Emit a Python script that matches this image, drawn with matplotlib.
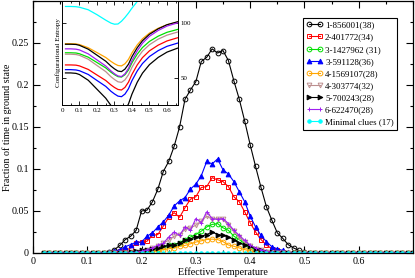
import numpy as np
import matplotlib
matplotlib.use('Agg')
import matplotlib.pyplot as plt
from matplotlib.ticker import MultipleLocator, FuncFormatter

plt.rcParams['font.family'] = ['Liberation Serif', 'DejaVu Serif']

# effective temperature grid of the main plot
temps = np.round(np.arange(0.02, 0.705, 0.01), 2)
# non-zero window: T = 0.13 ... 0.51
win_start = 11

frac_1_856001 = [0, 0.001, 0.004, 0.009, 0.016, 0.020, 0.027, 0.050, 0.051, 0.061,
                 0.076, 0.097, 0.109, 0.127, 0.150, 0.183, 0.194, 0.204, 0.228, 0.233,
                 0.243, 0.238, 0.241, 0.229, 0.205, 0.183, 0.157, 0.129, 0.103, 0.078,
                 0.055, 0.039, 0.024, 0.0175, 0.010, 0.006, 0.003, 0.001, 0]
frac_2_401772 = [0, 0, 0.001, 0.002, 0.003, 0.006, 0.012, 0.013, 0.014, 0.021,
                 0.022, 0.032, 0.0425, 0.048, 0.0425, 0.054, 0.064, 0.067, 0.078, 0.079,
                 0.0897, 0.087, 0.085, 0.079, 0.067, 0.061, 0.049, 0.036, 0.025, 0.016,
                 0.0095, 0.005, 0.003, 0.0015, 0.0005, 0, 0, 0, 0]
frac_3_1427962 = [0, 0, 0, 0, 0, 0.0005, 0.001, 0.001, 0.002, 0.004,
                  0.005, 0.007, 0.009, 0.010, 0.012, 0.016, 0.019, 0.022, 0.026, 0.031,
                  0.034, 0.035, 0.030, 0.027, 0.020, 0.016, 0.011, 0.007, 0.004, 0.002,
                  0.001, 0.0005, 0, 0, 0, 0, 0, 0, 0]
frac_3_591128 = [0, 0.001, 0.002, 0.004, 0.0075, 0.010, 0.013, 0.013, 0.020, 0.024,
                 0.031, 0.037, 0.045, 0.056, 0.062, 0.066, 0.076, 0.082, 0.092, 0.109,
                 0.106, 0.112, 0.099, 0.094, 0.085, 0.073, 0.061, 0.044, 0.031, 0.021,
                 0.0135, 0.0075, 0.005, 0.003, 0.001, 0.0005, 0, 0, 0]
frac_4_1569107 = [0, 0, 0, 0, 0, 0, 0.0005, 0.001, 0.0015, 0.002,
                  0.003, 0.004, 0.005, 0.006, 0.008, 0.009, 0.011, 0.013, 0.0145, 0.016,
                  0.0165, 0.016, 0.0135, 0.0095, 0.008, 0.006, 0.004, 0.0025, 0.001, 0.0005,
                  0, 0, 0, 0, 0, 0, 0, 0, 0]
frac_4_303774 = [0, 0, 0, 0, 0.0005, 0.001, 0.001, 0.002, 0.003, 0.006,
                 0.008, 0.012, 0.015, 0.020, 0.022, 0.028, 0.030, 0.033, 0.038, 0.044,
                 0.040, 0.041, 0.040, 0.033, 0.026, 0.019, 0.013, 0.008, 0.005, 0.003,
                 0.0015, 0.0005, 0, 0, 0, 0, 0, 0, 0]
frac_5_700243 = [0, 0, 0, 0, 0.0005, 0.001, 0.002, 0.003, 0.004, 0.005,
                 0.006, 0.008, 0.009, 0.010, 0.012, 0.015, 0.017, 0.019, 0.020, 0.022,
                 0.025, 0.022, 0.021, 0.019, 0.016, 0.0115, 0.010, 0.008, 0.005, 0.003,
                 0.0015, 0.001, 0.0005, 0, 0, 0, 0, 0, 0]
frac_6_622470 = [0, 0, 0, 0, 0, 0.0005, 0.001, 0.002, 0.004, 0.006,
                 0.0095, 0.0115, 0.019, 0.025, 0.021, 0.031, 0.027, 0.041, 0.036, 0.049,
                 0.041, 0.040, 0.041, 0.035, 0.027, 0.021, 0.015, 0.0095, 0.006, 0.004,
                 0.002, 0.001, 0, 0, 0, 0, 0, 0, 0]

labels = ['1-856001(38)', '2-401772(34)', '3-1427962 (31)', '3-591128(36)',
          '4-1569107(28)', '4-303774(32)', '5-700243(28)', '6-622470(28)',
          'Minimal clues (17)']
colors = ['black', 'red', '#00e000', 'blue', 'orange', '#bc8f8f', 'black',
          '#a020f0', 'cyan']
x_ticks = [0, 0.1, 0.2, 0.3, 0.4, 0.5, 0.6]
y_ticks = [0, 0.05, 0.1, 0.15, 0.2, 0.25]

# inset: configurational entropy
t_inset = [0.02, 0.05, 0.08, 0.1, 0.15, 0.2, 0.25, 0.28, 0.3, 0.32,
           0.34, 0.36, 0.38, 0.4, 0.43, 0.46, 0.5, 0.55, 0.6, 0.66]
s_1_856001 = [54.3, 54.3, 53.9, 52.8, 47.6, 39.4, 31.2, 24.5, 20.7, 17.7,
              17.0, 20.0, 26.0, 35.0, 45.8, 54.1, 61.9, 68.5, 73.3, 76.9]
s_2_401772 = [61.6, 61.6, 61.4, 60.7, 57.5, 52.4, 47.4, 43.3, 41.0, 39.2,
              38.7, 41.1, 45.9, 53.0, 61.6, 68.3, 74.5, 79.7, 83.5, 86.4]
s_3_1427962 = [72.7, 72.7, 72.5, 71.8, 68.7, 63.8, 58.9, 54.9, 52.7, 50.9,
               50.5, 52.7, 57.0, 63.6, 71.4, 77.5, 83.1, 87.9, 91.4, 94.0]
s_3_591128 = [57.3, 57.3, 57.0, 56.3, 52.9, 47.4, 42.0, 37.5, 35.1, 33.1,
              32.6, 35.0, 39.9, 47.3, 56.1, 62.9, 69.3, 74.7, 78.6, 81.5]
s_4_1569107 = [81.0, 81.0, 80.8, 80.2, 77.3, 72.9, 68.4, 64.8, 62.7, 61.1,
               60.7, 62.7, 66.7, 72.7, 79.9, 85.5, 90.7, 95.1, 98.3, 100.7]
s_4_303774 = [71.4, 71.4, 71.1, 70.4, 66.8, 61.1, 55.5, 50.8, 48.3, 46.2,
              45.7, 48.0, 52.6, 59.5, 67.7, 74.2, 80.1, 85.2, 88.8, 91.6]
s_5_700243 = [80.5, 80.5, 80.3, 79.5, 76.0, 70.5, 65.0, 60.5, 58.0, 56.0,
              55.5, 57.8, 62.3, 69.2, 77.3, 83.7, 89.6, 94.6, 98.3, 101.0]
s_6_622470 = [76.3, 76.3, 76.0, 75.3, 71.7, 66.2, 60.6, 56.1, 53.5, 51.5,
              51.0, 53.5, 58.4, 65.7, 74.5, 81.4, 87.8, 93.1, 97.1, 100.0]
s_minimal = [115, 115, 114.8, 114.3, 112, 107.5, 102.5, 99.8, 98.8, 99,
             101.5, 105, 109, 113.5, 119.5, 124, 128, 131, 133, 134]


def pad(vals):
    out = np.zeros(len(temps))
    out[win_start:win_start + len(vals)] = vals
    return out


fracs = [pad(v) for v in [frac_1_856001, frac_2_401772, frac_3_1427962, frac_3_591128,
                          frac_4_1569107, frac_4_303774, frac_5_700243, frac_6_622470]]
fracs.append(np.zeros(len(temps)))
markers = ['o', 's', 'o', '^', 'o', 'v', '>', '+', 'o']
filled = [False, False, False, True, False, False, True, True, True]

fig = plt.figure(figsize=(4.15, 2.78), dpi=100)
ax = fig.add_axes([33/415, 25/278, 380/415, 252/278])

for y, c, m, f, lab in zip(fracs, colors, markers, filled, labels):
    ms = 2.5 if lab.startswith('Minimal') else 3.4
    ax.plot(temps, y, color=c, lw=0.8, marker=m, ms=ms, mew=0.7,
            mfc=c if f else 'none', mec=c, label=lab)

ax.set_xlim(0, 0.7)
ax.set_ylim(0, 0.3)
ax.set_xticks(x_ticks)
ax.set_yticks(y_ticks)
ax.xaxis.set_minor_locator(MultipleLocator(0.05))
ax.yaxis.set_minor_locator(MultipleLocator(0.025))
fmt = FuncFormatter(lambda v, p: '%g' % round(v, 3))
ax.xaxis.set_major_formatter(fmt)
ax.yaxis.set_major_formatter(fmt)
ax.tick_params(which='both', direction='in', top=True, right=True, labelsize=7.2, pad=3)
ax.tick_params(which='major', length=5, width=0.8)
ax.tick_params(which='minor', length=2.5, width=0.8)
ax.set_xlabel('Effective Temperature', fontsize=7.2, labelpad=1)
ax.set_ylabel('Fraction of time in ground state', fontsize=7.2)
ax.yaxis.set_label_coords(-0.056, 0.5)
for sp in ax.spines.values():
    sp.set_linewidth(0.9)

leg = ax.legend(loc='upper left', bbox_to_anchor=(303/415, 260/278),
                bbox_transform=fig.transFigure, fontsize=6.5, numpoints=2,
                handlelength=1.8, handletextpad=0.3, labelspacing=0.42,
                borderpad=0.35, fancybox=False, framealpha=1, borderaxespad=0)
leg.get_frame().set_edgecolor('black')
leg.get_frame().set_linewidth(0.8)

# inset
ax_in = fig.add_axes([62/415, 173/278, 116/415, 104/278])
inset_series = [s_1_856001, s_2_401772, s_3_1427962, s_3_591128, s_4_1569107,
                s_4_303774, s_5_700243, s_6_622470, s_minimal]
for y, c in zip(inset_series, colors):
    ax_in.plot(t_inset, y, color=c, lw=0.9)
ax_in.set_xlim(0, 0.663)
ax_in.set_ylim(25, 120)
ax_in.xaxis.set_major_locator(MultipleLocator(0.1))
ax_in.xaxis.set_minor_locator(MultipleLocator(0.05))
ax_in.set_yticks([50, 100])
ax_in.xaxis.set_major_formatter(fmt)
ax_in.tick_params(which='both', direction='in', top=True, right=True,
                  labelleft=False, labelright=True, labelsize=5, pad=2)
ax_in.tick_params(which='major', length=3, width=0.6)
ax_in.tick_params(which='minor', length=1.5, width=0.6)
ax_in.set_ylabel('Configurational Entropy', fontsize=5, labelpad=1)
for sp in ax_in.spines.values():
    sp.set_linewidth(0.7)

fig.savefig('out.png', dpi=100)
